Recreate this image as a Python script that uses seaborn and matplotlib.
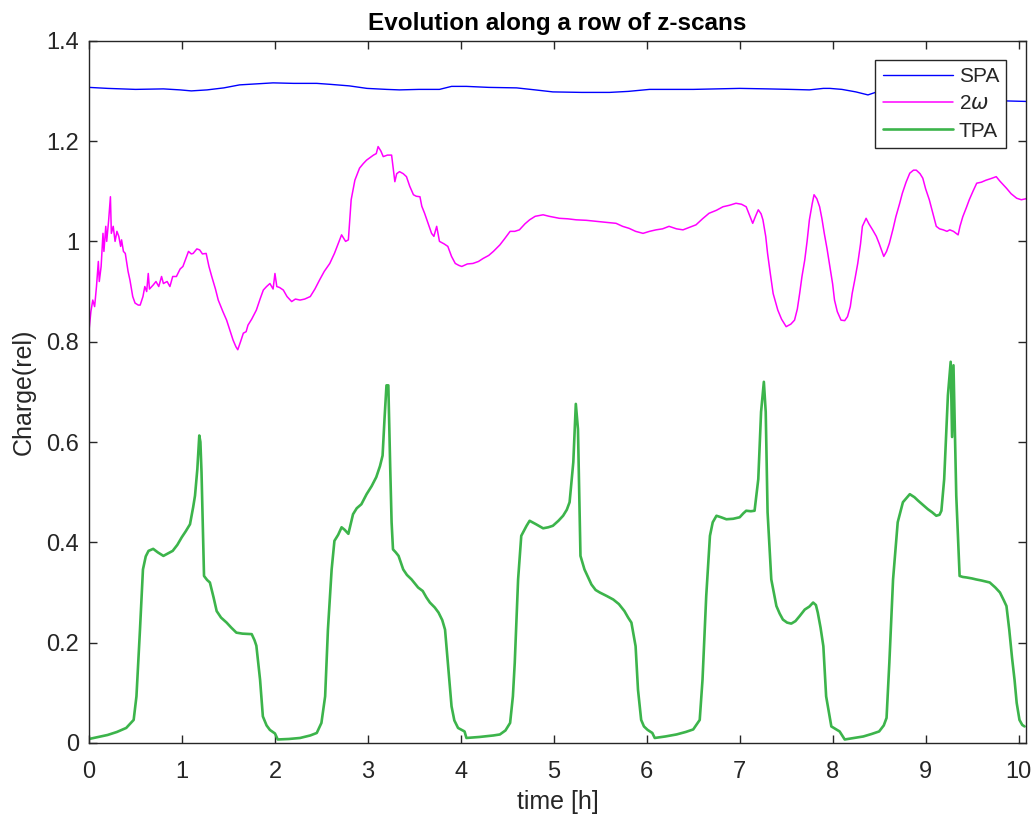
import numpy as np
import pandas as pd
import matplotlib
matplotlib.use("Agg")
import matplotlib.pyplot as plt
import seaborn as sns
from matplotlib.ticker import FuncFormatter

# SPA signal (blue)
spa_t = [0.0, 0.2, 0.5, 0.8, 0.98, 1.1, 1.27, 1.45, 1.62, 1.8, 1.98, 2.2, 2.45, 2.6,
         2.8, 2.99, 3.2, 3.34, 3.55, 3.77, 3.9, 4.06, 4.3, 4.6, 4.8, 4.99, 5.3, 5.6,
         5.8, 6.03, 6.3, 6.5, 6.75, 7.0, 7.3, 7.55, 7.75, 7.9, 7.97, 8.1, 8.25, 8.38,
         8.46, 8.8, 9.2, 9.6, 9.87, 10.08]
spa_q = [1.307, 1.305, 1.303, 1.304, 1.302, 1.300, 1.302, 1.306, 1.312, 1.314, 1.316,
         1.315, 1.315, 1.313, 1.310, 1.305, 1.303, 1.302, 1.303, 1.303, 1.309, 1.309,
         1.307, 1.306, 1.302, 1.298, 1.297, 1.297, 1.299, 1.303, 1.303, 1.303, 1.304,
         1.305, 1.304, 1.303, 1.302, 1.305, 1.305, 1.303, 1.298, 1.292, 1.297, 1.290,
         1.285, 1.281, 1.280, 1.279]

# second harmonic signal (magenta)
shg_t = [0.00, 0.02, 0.04, 0.06, 0.08, 0.10, 0.11, 0.13, 0.15, 0.16, 0.18, 0.19, 0.21,
         0.23, 0.24, 0.26, 0.28, 0.30, 0.32, 0.34, 0.35, 0.37, 0.39, 0.42, 0.44, 0.47,
         0.495, 0.53, 0.55, 0.58, 0.60, 0.62, 0.637, 0.65, 0.69, 0.72, 0.75, 0.78, 0.80,
         0.84, 0.87, 0.90, 0.94, 0.98, 1.01, 1.04, 1.07, 1.10, 1.12, 1.16, 1.19, 1.22,
         1.26, 1.29, 1.32, 1.36, 1.39, 1.44, 1.48, 1.52, 1.55, 1.58, 1.60, 1.63, 1.66,
         1.69, 1.71, 1.75, 1.80, 1.84, 1.875, 1.91, 1.946, 1.98, 2.00, 2.02, 2.05, 2.09,
         2.13, 2.18, 2.22, 2.27, 2.32, 2.38, 2.43, 2.48, 2.53, 2.59, 2.64, 2.68, 2.717,
         2.76, 2.79, 2.82, 2.86, 2.91, 2.95, 2.986, 3.03, 3.06, 3.09, 3.11, 3.14, 3.165,
         3.21, 3.255, 3.27, 3.29, 3.31, 3.34, 3.38, 3.415, 3.45, 3.49, 3.52, 3.56, 3.58,
         3.61, 3.65, 3.685, 3.71, 3.74, 3.77, 3.82, 3.86, 3.90, 3.94, 3.98, 4.01, 4.07,
         4.13, 4.19, 4.24, 4.30, 4.35, 4.42, 4.47, 4.53, 4.58, 4.63, 4.69, 4.74, 4.80,
         4.885, 4.95, 5.06, 5.15, 5.24, 5.35, 5.45, 5.56, 5.67, 5.74, 5.81, 5.88, 5.96,
         6.03, 6.10, 6.17, 6.24, 6.32, 6.39, 6.46, 6.53, 6.60, 6.67, 6.75, 6.82, 6.89,
         6.96, 7.02, 7.07, 7.11, 7.14, 7.17, 7.20, 7.23, 7.25, 7.28, 7.30, 7.33, 7.36,
         7.41, 7.45, 7.50, 7.55, 7.59, 7.62, 7.645, 7.67, 7.70, 7.725, 7.75, 7.78, 7.80,
         7.83, 7.86, 7.885, 7.91, 7.94, 7.97, 8.00, 8.02, 8.05, 8.09, 8.13, 8.16, 8.19,
         8.21, 8.24, 8.27, 8.30, 8.32, 8.36, 8.39, 8.43, 8.47, 8.50, 8.53, 8.55, 8.58,
         8.61, 8.65, 8.68, 8.72, 8.75, 8.79, 8.83, 8.87, 8.90, 8.94, 8.97, 9.00, 9.04,
         9.08, 9.115, 9.15, 9.19, 9.23, 9.26, 9.30, 9.35, 9.37, 9.40, 9.44, 9.47, 9.51,
         9.55, 9.60, 9.65, 9.70, 9.76, 9.80, 9.84, 9.87, 9.92, 9.98, 10.03, 10.08]
shg_q = [0.823, 0.860, 0.883, 0.870, 0.910, 0.960, 0.920, 0.950, 1.016, 0.980, 1.030,
         1.000, 1.040, 1.089, 1.016, 1.030, 1.000, 1.020, 1.010, 0.990, 1.003, 0.980,
         0.976, 0.940, 0.923, 0.890, 0.877, 0.873, 0.873, 0.890, 0.910, 0.900, 0.936,
         0.905, 0.913, 0.920, 0.910, 0.930, 0.916, 0.920, 0.910, 0.930, 0.930, 0.945,
         0.950, 0.965, 0.980, 0.975, 0.976, 0.985, 0.983, 0.975, 0.976, 0.950, 0.930,
         0.905, 0.883, 0.860, 0.843, 0.820, 0.803, 0.790, 0.784, 0.800, 0.817, 0.820,
         0.833, 0.845, 0.863, 0.885, 0.903, 0.910, 0.916, 0.905, 0.936, 0.910, 0.908,
         0.903, 0.890, 0.880, 0.885, 0.883, 0.885, 0.890, 0.905, 0.923, 0.940, 0.956,
         0.976, 0.995, 1.013, 1.000, 1.003, 1.083, 1.122, 1.146, 1.155, 1.162, 1.168,
         1.172, 1.175, 1.189, 1.180, 1.169, 1.172, 1.172, 1.150, 1.119, 1.135, 1.139,
         1.135, 1.129, 1.110, 1.093, 1.090, 1.089, 1.070, 1.056, 1.035, 1.016, 1.010,
         1.030, 1.000, 0.995, 0.990, 0.970, 0.956, 0.952, 0.950, 0.955, 0.956, 0.960,
         0.966, 0.972, 0.980, 0.993, 1.005, 1.020, 1.020, 1.023, 1.035, 1.043, 1.050,
         1.053, 1.050, 1.046, 1.045, 1.043, 1.042, 1.040, 1.038, 1.036, 1.030, 1.026,
         1.020, 1.016, 1.020, 1.023, 1.025, 1.030, 1.025, 1.023, 1.028, 1.033, 1.045,
         1.056, 1.062, 1.069, 1.072, 1.076, 1.074, 1.069, 1.050, 1.036, 1.050, 1.063,
         1.055, 1.043, 1.010, 0.976, 0.935, 0.896, 0.863, 0.845, 0.830, 0.835, 0.843,
         0.865, 0.896, 0.930, 0.963, 1.000, 1.043, 1.075, 1.093, 1.085, 1.069, 1.045,
         1.016, 0.985, 0.950, 0.915, 0.883, 0.860, 0.843, 0.842, 0.850, 0.870, 0.896,
         0.925, 0.956, 0.995, 1.030, 1.046, 1.035, 1.023, 1.010, 0.996, 0.980, 0.970,
         0.980, 0.996, 1.025, 1.049, 1.075, 1.096, 1.118, 1.136, 1.142, 1.142, 1.135,
         1.126, 1.105, 1.083, 1.055, 1.030, 1.025, 1.023, 1.020, 1.023, 1.020, 1.013,
         1.030, 1.049, 1.068, 1.083, 1.100, 1.116, 1.118, 1.122, 1.125, 1.129, 1.120,
         1.112, 1.106, 1.095, 1.086, 1.083, 1.085]

# TPA signal (green)
tpa_t = [0.0, 0.1, 0.2, 0.3, 0.4, 0.48, 0.51, 0.548, 0.58, 0.61, 0.64, 0.69, 0.74, 0.80,
         0.85, 0.90, 0.95, 0.997, 1.04, 1.086, 1.12, 1.14, 1.165, 1.186, 1.198, 1.21,
         1.237, 1.27, 1.30, 1.34, 1.373, 1.42, 1.48, 1.53, 1.585, 1.65, 1.75, 1.78, 1.80,
         1.82, 1.84, 1.87, 1.91, 1.946, 2.0, 2.03, 2.15, 2.27, 2.38, 2.45, 2.50, 2.54,
         2.57, 2.61, 2.64, 2.68, 2.717, 2.75, 2.79, 2.82, 2.84, 2.88, 2.93, 2.986, 3.04,
         3.09, 3.13, 3.158, 3.18, 3.20, 3.22, 3.24, 3.255, 3.27, 3.30, 3.33, 3.38, 3.42,
         3.47, 3.54, 3.59, 3.63, 3.667, 3.72, 3.76, 3.80, 3.83, 3.86, 3.90, 3.93, 3.97,
         4.04, 4.06, 4.20, 4.35, 4.42, 4.48, 4.53, 4.56, 4.58, 4.616, 4.65, 4.707, 4.74,
         4.77, 4.81, 4.885, 4.94, 4.99, 5.05, 5.10, 5.14, 5.17, 5.21, 5.237, 5.26, 5.287,
         5.33, 5.37, 5.405, 5.45, 5.495, 5.57, 5.64, 5.70, 5.76, 5.80, 5.835, 5.88, 5.906,
         5.94, 5.97, 6.01, 6.06, 6.086, 6.20, 6.32, 6.42, 6.50, 6.57, 6.60, 6.64, 6.68,
         6.71, 6.75, 6.80, 6.857, 6.93, 7.00, 7.04, 7.07, 7.12, 7.16, 7.20, 7.23, 7.26,
         7.28, 7.30, 7.34, 7.395, 7.43, 7.465, 7.51, 7.555, 7.60, 7.645, 7.70, 7.75, 7.79,
         7.82, 7.84, 7.87, 7.90, 7.93, 7.986, 8.03, 8.075, 8.13, 8.23, 8.33, 8.42, 8.50,
         8.55, 8.58, 8.61, 8.65, 8.70, 8.756, 8.83, 8.88, 8.92, 8.97, 9.025, 9.07, 9.115,
         9.15, 9.17, 9.20, 9.24, 9.27, 9.285, 9.30, 9.33, 9.366, 9.40, 9.44, 9.50, 9.545,
         9.60, 9.69, 9.75, 9.80, 9.84, 9.87, 9.90, 9.93, 9.957, 9.98, 10.01, 10.04, 10.065]
tpa_q = [0.008, 0.012, 0.016, 0.022, 0.030, 0.046, 0.093, 0.226, 0.346, 0.372, 0.383,
         0.387, 0.380, 0.373, 0.378, 0.383, 0.395, 0.410, 0.422, 0.436, 0.470, 0.493,
         0.546, 0.613, 0.600, 0.540, 0.333, 0.325, 0.320, 0.290, 0.263, 0.250, 0.240,
         0.230, 0.220, 0.218, 0.217, 0.205, 0.194, 0.160, 0.126, 0.053, 0.035, 0.026,
         0.019, 0.007, 0.008, 0.010, 0.015, 0.020, 0.040, 0.093, 0.226, 0.346, 0.403,
         0.415, 0.430, 0.425, 0.417, 0.440, 0.456, 0.468, 0.476, 0.496, 0.512, 0.530,
         0.552, 0.573, 0.650, 0.713, 0.713, 0.550, 0.440, 0.386, 0.380, 0.373, 0.346,
         0.335, 0.326, 0.310, 0.303, 0.290, 0.280, 0.270, 0.260, 0.245, 0.226, 0.160,
         0.073, 0.045, 0.030, 0.023, 0.010, 0.012, 0.015, 0.017, 0.025, 0.040, 0.093,
         0.160, 0.326, 0.413, 0.433, 0.443, 0.440, 0.436, 0.428, 0.430, 0.433, 0.443,
         0.453, 0.465, 0.480, 0.560, 0.676, 0.626, 0.373, 0.346, 0.330, 0.316, 0.305,
         0.300, 0.293, 0.286, 0.277, 0.263, 0.250, 0.240, 0.193, 0.106, 0.046, 0.033,
         0.026, 0.020, 0.010, 0.013, 0.017, 0.022, 0.027, 0.046, 0.126, 0.293, 0.413,
         0.440, 0.453, 0.450, 0.446, 0.447, 0.450, 0.458, 0.463, 0.462, 0.463, 0.526,
         0.660, 0.720, 0.660, 0.460, 0.326, 0.273, 0.258, 0.246, 0.240, 0.238, 0.243,
         0.253, 0.266, 0.272, 0.280, 0.275, 0.260, 0.230, 0.193, 0.093, 0.033, 0.028,
         0.023, 0.007, 0.010, 0.013, 0.018, 0.023, 0.035, 0.050, 0.160, 0.326, 0.440,
         0.480, 0.496, 0.490, 0.483, 0.475, 0.466, 0.460, 0.453, 0.455, 0.463, 0.526,
         0.693, 0.760, 0.610, 0.753, 0.493, 0.333, 0.331, 0.330, 0.328, 0.326, 0.324,
         0.320, 0.310, 0.300, 0.285, 0.273, 0.226, 0.170, 0.126, 0.080, 0.046, 0.036,
         0.033]

title = "Evolution along a row of z-scans"
x_label = "time [h]"
y_label = "Charge(rel)"
series_names = ["SPA", "2$\\omega$", "TPA"]

sns.set_theme(style="ticks")
plt.rcParams["font.family"] = ["Liberation Sans", "DejaVu Sans"]
plt.rcParams["mathtext.fontset"] = "dejavusans"

fig = plt.figure(figsize=(10.33, 8.18), dpi=100)
ax = fig.add_axes([0.0862, 0.0917, 0.9070, 0.8585])

dark = "#262626"
sns.lineplot(x=spa_t, y=spa_q, ax=ax, color="#0000ff", lw=1.0,
             estimator=None, sort=False, label=series_names[0])
sns.lineplot(x=shg_t, y=shg_q, ax=ax, color="#ff00ff", lw=1.1,
             estimator=None, sort=False, label=series_names[1])
sns.lineplot(x=tpa_t, y=tpa_q, ax=ax, color="#3cb44b", lw=1.9,
             estimator=None, sort=False, label=series_names[2])

ax.set_xlim(0, 10.08)
ax.set_ylim(0, 1.4)
ax.set_xticks(np.arange(0, 11, 1))
ax.set_yticks(np.arange(0, 1.41, 0.2))
ax.yaxis.set_major_formatter(FuncFormatter(lambda v, p: f"{v:g}"))

for side in ["top", "right", "left", "bottom"]:
    ax.spines[side].set_visible(True)
    ax.spines[side].set_color(dark)
    ax.spines[side].set_linewidth(1.0)
ax.tick_params(direction="in", length=5.5, width=1.0, colors=dark,
               labelsize=17, top=True, right=True)
ax.tick_params(axis="x", pad=13)
ax.tick_params(axis="y", pad=7)

ax.set_xlabel(x_label, fontsize=18, color=dark, labelpad=5)
ax.set_ylabel(y_label, fontsize=18, color=dark, labelpad=8)
ax.set_title(title, fontsize=17.5, fontweight="bold", color="black", pad=8)

leg = ax.legend(loc="upper right", bbox_to_anchor=(0.979, 0.973), borderaxespad=0,
                fontsize=15, frameon=True, fancybox=False, handlelength=3.4,
                handletextpad=0.25, labelspacing=0.4, borderpad=0.35)
leg.get_frame().set_edgecolor(dark)
leg.get_frame().set_linewidth(1.0)
leg.get_frame().set_alpha(1)

fig.savefig("out.png", dpi=100)
